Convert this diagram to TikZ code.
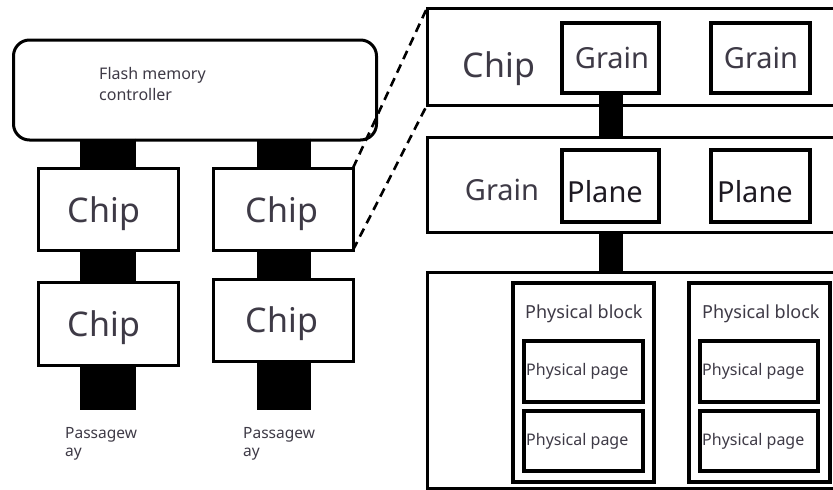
\documentclass[tikz,border=0pt]{standalone}
\usepackage{fontspec}
\setmainfont{Noto Sans}
\definecolor{txt}{HTML}{3E3A46}
\definecolor{txtd}{HTML}{1E1A22}
\begin{document}
\begin{tikzpicture}[x=1pt,y=-1pt,
  box/.style={draw=black,line width=3pt,fill=white,inner sep=0pt,outer sep=0pt},
  thinbox/.style={draw=black,line width=3.2pt,fill=white,inner sep=0pt,outer sep=0pt},
  bus/.style={line width=#1,line cap=butt,draw=black},
  lbl/.style={text=txt,inner sep=0pt,anchor=base},
  zoomline/.style={draw=black,line width=2.6pt,dash pattern=on 9pt off 6pt}]
\useasboundingbox (0,0) rectangle (833,490);
\fill[white] (0,0) rectangle (833,490);
% left side
\node[box,rounded corners=16pt,minimum width=363pt,minimum height=100pt] (ctrl) at (195,90) {};
\node[box,minimum width=140pt,minimum height=82pt] (chipA1) at (108,209) {};
\node[box,minimum width=140pt,minimum height=82pt] (chipB1) at (283,209) {};
\node[box,minimum width=140pt,minimum height=83pt] (chipA2) at (108,323.5) {};
\node[box,minimum width=140pt,minimum height=82pt] (chipB2) at (283,320) {};
\coordinate (endA) at (108,410);
\coordinate (endB) at (284,410);
\draw[bus=56pt] (ctrl.south) ++(0,-1.5) coordinate (t1) (t1 -| chipA1) -- (chipA1.north);
\draw[bus=54pt] ([xshift=1pt]t1 -| chipB1) -- ([xshift=1pt]chipB1.north);
\draw[bus=56pt] (chipA1.south) -- (chipA2.north);
\draw[bus=54pt] ([xshift=1pt]chipB1.south) -- ([xshift=1pt]chipB2.north);
\draw[bus=56pt] (chipA2.south) -- (endA);
\draw[bus=54pt] ([xshift=1pt]chipB2.south) -- (endB);
\node[lbl,anchor=base west,align=left,font=\fontsize{16}{21}\selectfont] (ctrlt) at (99,100) {Flash memory\\controller};
\node[lbl,font=\fontsize{34}{40}\selectfont] (cA1) at (104,222) {Chip};
\node[lbl,font=\fontsize{34}{40}\selectfont] (cB1) at (282,222) {Chip};
\node[lbl,font=\fontsize{34}{40}\selectfont] (cA2) at (104,336) {Chip};
\node[lbl,font=\fontsize{34}{40}\selectfont] (cB2) at (282,332) {Chip};
\node[lbl,anchor=base west,align=left,font=\fontsize{15.5}{18}\selectfont] (pA) at (65,456) {Passagew\\ay};
\node[lbl,anchor=base west,align=left,font=\fontsize{15.5}{18}\selectfont] (pB) at (243,456) {Passagew\\ay};
% right side
\node[box,minimum width=418pt,minimum height=97pt] (rowC) at (636,56.5) {};
\node[box,minimum width=418pt,minimum height=95pt] (rowG) at (636,184.5) {};
\node[box,minimum width=418pt,minimum height=216pt] (rowP) at (636,380) {};
\node[thinbox,minimum width=97pt,minimum height=70pt] (grA) at (610.5,58) {};
\node[thinbox,minimum width=99pt,minimum height=70pt] (grB) at (760.5,58) {};
\draw[bus=24pt] (grA.south) -- (grA.south |- rowG.north);
\draw[bus=24pt] (rowG.south -| grA.south) -- (rowP.north -| grA.south);
\node[thinbox,minimum width=97pt,minimum height=72pt] (plA) at (610.5,186) {};
\node[thinbox,minimum width=99pt,minimum height=72pt] (plB) at (760.5,186) {};
\node[thinbox,minimum width=141pt,minimum height=199pt] (blA) at (583.5,382.5) {};
\node[thinbox,minimum width=141pt,minimum height=199pt] (blB) at (759.5,382.5) {};
\node[thinbox,minimum width=119pt,minimum height=61pt] (pgA1) at (583.5,371.5) {};
\node[thinbox,minimum width=119pt,minimum height=60pt] (pgA2) at (583.5,441) {};
\node[thinbox,minimum width=118pt,minimum height=61pt] (pgB1) at (759,371.5) {};
\node[thinbox,minimum width=118pt,minimum height=60pt] (pgB2) at (759,441) {};
\node[lbl,font=\fontsize{34}{40}\selectfont] (tC) at (499,77) {Chip};
\node[lbl,font=\fontsize{29}{34}\selectfont] (tgA) at (612,68) {Grain};
\node[lbl,font=\fontsize{29}{34}\selectfont] (tgB) at (761,68) {Grain};
\node[lbl,font=\fontsize{29}{34}\selectfont] (tG) at (502,200) {Grain};
\node[lbl,text=txtd,font=\fontsize{29}{34}\selectfont] (tpA) at (605,202) {Plane};
\node[lbl,text=txtd,font=\fontsize{29}{34}\selectfont] (tpB) at (755,202) {Plane};
\node[lbl,anchor=base west,font=\fontsize{18}{20}\selectfont] (tbA) at (525,318) {Physical block};
\node[lbl,anchor=base west,font=\fontsize{18}{20}\selectfont] (tbB) at (702,318) {Physical block};
\node[lbl,anchor=base west,font=\fontsize{16}{20}\selectfont] (tpgA1) at (526,375) {Physical page};
\node[lbl,anchor=base west,font=\fontsize{16}{20}\selectfont] (tpgA2) at (526,445) {Physical page};
\node[lbl,anchor=base west,font=\fontsize{16}{20}\selectfont] (tpgB1) at (702,375) {Physical page};
\node[lbl,anchor=base west,font=\fontsize{16}{20}\selectfont] (tpgB2) at (702,445) {Physical page};
% zoom lines
\draw[zoomline] (chipB1.north east) -- (rowC.north west);
\draw[zoomline] (chipB1.south east) -- (rowC.south west);
\end{tikzpicture}
\end{document}
